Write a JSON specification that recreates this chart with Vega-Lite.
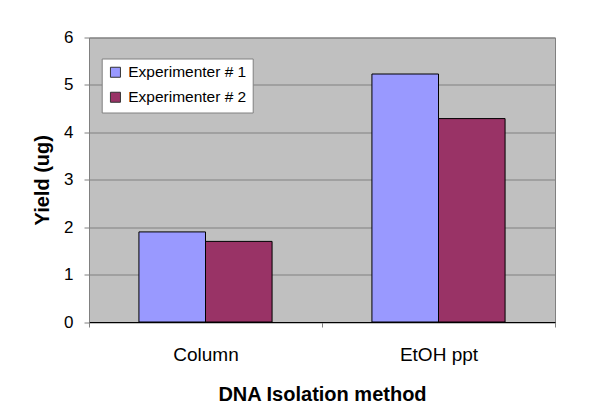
{
  "$schema": "https://vega.github.io/schema/vega-lite/v6.json",
  "width": 466,
  "height": 284.5,
  "autosize": {"type": "none"},
  "padding": {"left": 89, "top": 37.5, "right": 58, "bottom": 93},
  "background": "white",
  "data": {
    "values": [
      {"method": "Column", "experimenter": "Experimenter # 1", "yield": 1.9},
      {"method": "Column", "experimenter": "Experimenter # 2", "yield": 1.7},
      {"method": "EtOH ppt", "experimenter": "Experimenter # 1", "yield": 5.23},
      {"method": "EtOH ppt", "experimenter": "Experimenter # 2", "yield": 4.29}
    ]
  },
  "mark": {"type": "bar", "stroke": "black", "strokeWidth": 1},
  "encoding": {
    "x": {
      "field": "method",
      "type": "nominal",
      "scale": {"paddingInner": 0, "paddingOuter": 0},
      "axis": {
        "title": "DNA Isolation method",
        "labelAngle": 0,
        "tickBand": "extent",
        "tickSize": 5,
        "labelPadding": 18,
        "labelFontSize": 19,
        "titleFontSize": 20,
        "titlePadding": 20,
        "domainColor": "black",
        "tickColor": "#808080"
      }
    },
    "xOffset": {
      "field": "experimenter",
      "type": "nominal",
      "scale": {"paddingInner": 0, "paddingOuter": 0.75}
    },
    "y": {
      "field": "yield",
      "type": "quantitative",
      "scale": {"domain": [0, 6], "nice": false},
      "axis": {
        "title": "Yield (ug)",
        "values": [0, 1, 2, 3, 4, 5, 6],
        "tickSize": 5,
        "labelPadding": 11,
        "labelFontSize": 17,
        "titleFontSize": 20,
        "titlePadding": 11,
        "domainColor": "#808080",
        "tickColor": "#808080",
        "gridColor": "#808080",
        "gridOpacity": 1
      }
    },
    "color": {
      "field": "experimenter",
      "type": "nominal",
      "scale": {"range": ["#9999FF", "#993366"]},
      "legend": {
        "title": null,
        "orient": "none",
        "legendX": 12.7,
        "legendY": 21,
        "fillColor": "white",
        "strokeColor": "#808080",
        "padding": 6,
        "rowPadding": 8,
        "symbolType": "square",
        "symbolSize": 100,
        "symbolStrokeColor": "#333333",
        "symbolStrokeWidth": 1,
        "symbolOpacity": 1,
        "labelFontSize": 15.5,
        "labelOffset": 5,
        "labelColor": "black"
      }
    }
  },
  "config": {
    "font": "Liberation Sans",
    "view": {"fill": "#C0C0C0", "stroke": "#808080"},
    "axis": {
      "labelColor": "black",
      "titleColor": "black",
      "titleFontWeight": "bold",
      "labelFont": "Liberation Sans",
      "titleFont": "Liberation Sans"
    },
    "legend": {"labelFont": "Liberation Sans"}
  }
}
